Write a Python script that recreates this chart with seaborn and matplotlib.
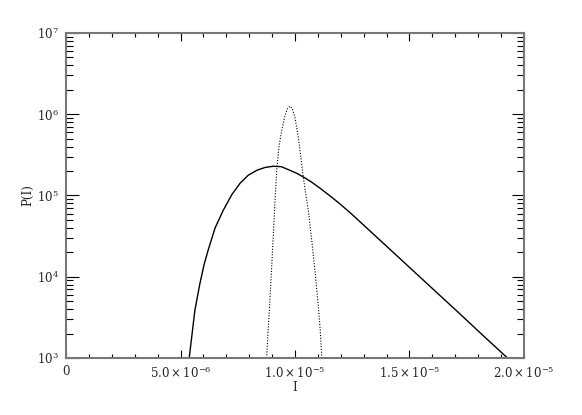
import numpy as np
import pandas as pd
import matplotlib
matplotlib.use('Agg')
import matplotlib.pyplot as plt
import matplotlib.ticker as mticker
import seaborn as sns

# broad distribution (solid line), I in units of 1e-6
broad_i = [5.38, 5.49, 5.63, 5.85, 6.03, 6.21, 6.51, 6.87, 7.24, 7.60, 7.96,
           8.33, 8.69, 9.05, 9.40, 9.78, 10.10, 10.44, 10.75, 11.09, 11.53,
           11.97, 12.50, 12.98, 14.00, 15.02, 16.00, 17.06, 18.20, 19.24]
broad_logp = [3.00, 3.26, 3.59, 3.92, 4.15, 4.33, 4.60, 4.82, 5.01, 5.15, 5.25,
              5.31, 5.345, 5.36, 5.355, 5.31, 5.27, 5.215, 5.16, 5.09, 4.995,
              4.895, 4.765, 4.64, 4.375, 4.11, 3.855, 3.58, 3.28, 3.01]

# narrow distribution (dotted line)
narrow_i = [8.76, 8.86, 8.96, 9.05, 9.13, 9.20, 9.30, 9.42, 9.56, 9.67, 9.78,
            9.88, 10.00, 10.14, 10.25, 10.36, 10.48, 10.58, 10.73, 10.88,
            11.02, 11.10, 11.17]
narrow_logp = [3.00, 3.50, 4.00, 4.50, 4.95, 5.30, 5.60, 5.80, 5.98, 6.07, 6.10,
               6.07, 5.96, 5.72, 5.48, 5.23, 5.00, 4.82, 4.45, 4.05,
               3.63, 3.35, 3.00]

x_ticks = [0, 5e-6, 1e-5, 1.5e-5, 2e-5]
x_ticklabels = ['0', r'$5.0\times10^{-6}$', r'$1.0\times10^{-5}$',
                r'$1.5\times10^{-5}$', r'$2.0\times10^{-5}$']
y_ticks = [1e3, 1e4, 1e5, 1e6, 1e7]
y_ticklabels = [r'$10^{3}$', r'$10^{4}$', r'$10^{5}$', r'$10^{6}$', r'$10^{7}$']

broad = pd.DataFrame({'I': np.array(broad_i) * 1e-6, 'P': 10 ** np.array(broad_logp)})
narrow = pd.DataFrame({'I': np.array(narrow_i) * 1e-6, 'P': 10 ** np.array(narrow_logp)})

sns.set_style('ticks')
plt.rcParams['font.family'] = ['DejaVu Serif']
plt.rcParams['mathtext.fontset'] = 'dejavuserif'

fig = plt.figure(figsize=(5.82, 4.15), dpi=100)
ax = fig.add_axes([66 / 582, 1 - 358 / 415, (524 - 66) / 582, (358 - 33) / 415])

sns.lineplot(data=broad, x='I', y='P', ax=ax, color='black', linewidth=1.0,
             estimator=None, sort=False)
sns.lineplot(data=narrow, x='I', y='P', ax=ax, color='black', linewidth=0.8,
             linestyle=(0, (1, 1.5)), estimator=None, sort=False)

ax.set_yscale('log')
ax.set_xlim(0, 2e-5)
ax.set_ylim(1e3, 1e7)

ax.set_xticks(x_ticks)
ax.set_xticklabels(x_ticklabels, fontsize=8.5)
ax.xaxis.set_minor_locator(mticker.MultipleLocator(1e-6))
ax.set_yticks(y_ticks)
ax.set_yticklabels(y_ticklabels, fontsize=8.5)
ax.yaxis.set_minor_locator(mticker.LogLocator(base=10, subs=np.arange(2, 10)))
ax.yaxis.set_minor_formatter(mticker.NullFormatter())

ax.tick_params(which='both', direction='in', top=True, right=True, color='black', width=0.8)
ax.tick_params(axis='x', which='major', length=6, pad=5)
ax.tick_params(axis='x', which='minor', length=3)
ax.tick_params(axis='y', which='major', length=9, pad=5)
ax.tick_params(axis='y', which='minor', length=5)
for s in ax.spines.values():
    s.set_color('#777777')
    s.set_linewidth(1.5)

ax.set_xlabel('I', fontsize=8.5, labelpad=0)
ax.set_ylabel('P(I)', fontsize=8.5, labelpad=2)

fig.savefig('out.png', dpi=100)
